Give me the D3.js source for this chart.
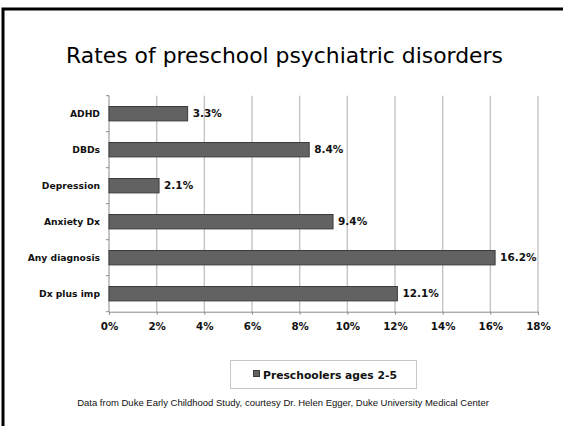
<!DOCTYPE html>
<html>
<head>
<meta charset="utf-8">
<script src="https://cdn.jsdelivr.net/npm/d3@7/dist/d3.min.js"></script>
<style>
  html, body { margin: 0; padding: 0; background: #fff; }
  svg { display: block; }
</style>
</head>
<body>
<svg id="chart" width="563" height="426"></svg>
<script>
// Prevalence of preschool psychiatric disorders (%)
const categories = ["ADHD", "DBDs", "Depression", "Anxiety Dx", "Any diagnosis", "Dx plus imp"];
const values = [3.3, 8.4, 2.1, 9.4, 16.2, 12.1];
const tickValues = [0, 2, 4, 6, 8, 10, 12, 14, 16, 18];
const tickLabels = ["0%", "2%", "4%", "6%", "8%", "10%", "12%", "14%", "16%", "18%"];
const seriesName = "Preschoolers ages 2-5";
const titleText = "Rates of preschool psychiatric disorders";
const footerText = "Data from Duke Early Childhood Study, courtesy Dr. Helen Egger, Duke University Medical Center";

const svg = d3.select("#chart");
const boldFont = "'DejaVu Sans', Verdana, sans-serif";

// slide frame (runs off the right and bottom edges)
svg.append("rect")
  .attr("x", 3).attr("y", 9).attr("width", 620).attr("height", 460)
  .attr("fill", "none").attr("stroke", "#000").attr("stroke-width", 3);

// title, fitted to its line width
const title = svg.append("text")
  .attr("x", 284.5).attr("y", 63)
  .attr("text-anchor", "middle")
  .attr("font-family", "Verdana, 'DejaVu Sans', sans-serif")
  .attr("font-size", 22).attr("fill", "#000")
  .text(titleText);
{
  const w = title.node().getComputedTextLength();
  title.attr("font-size", 22 * 437 / w);
}

const plot = { left: 109, right: 538, top: 95.7, bottom: 311.7 };

const x = d3.scaleLinear().domain([0, 18]).range([plot.left, plot.right]);
const y = d3.scaleBand().domain(categories)
  .range([plot.top, plot.bottom]).paddingInner(0.6).paddingOuter(0.3);

// vertical gridlines
svg.append("g").selectAll("line")
  .data(tickValues.filter(v => v > 0))
  .join("line")
  .attr("x1", d => x(d)).attr("x2", d => x(d))
  .attr("y1", plot.top).attr("y2", plot.bottom)
  .attr("stroke", "#c4c4c4").attr("stroke-width", 1.4);

// bottom axis
const xAxis = svg.append("g")
  .attr("transform", `translate(0,${plot.bottom})`)
  .call(d3.axisBottom(x).tickValues(tickValues)
    .tickFormat((d, i) => tickLabels[i]).tickSize(3).tickPadding(8));
xAxis.select(".domain").attr("stroke", "#8a8a8a");
xAxis.selectAll(".tick line").attr("stroke", "#8a8a8a");
xAxis.selectAll(".tick text")
  .attr("font-family", boldFont).attr("font-weight", "bold")
  .attr("font-size", 10.3).attr("fill", "#111");

// left axis: labels at band centres, ticks at band boundaries
const yAxis = svg.append("g")
  .attr("transform", `translate(${plot.left},0)`)
  .call(d3.axisLeft(y).tickSize(0).tickPadding(9));
yAxis.select(".domain").remove();
yAxis.selectAll(".tick text")
  .attr("font-family", boldFont).attr("font-weight", "bold")
  .attr("font-size", 9.2).attr("fill", "#111");

const bounds = d3.range(categories.length + 1).map(i => plot.top + i * y.step());
svg.append("g").selectAll("line")
  .data(bounds).join("line")
  .attr("x1", plot.left - 3).attr("x2", plot.left)
  .attr("y1", d => d).attr("y2", d => d)
  .attr("stroke", "#8a8a8a");
svg.append("line")
  .attr("x1", plot.left).attr("x2", plot.left)
  .attr("y1", plot.top).attr("y2", plot.bottom)
  .attr("stroke", "#8a8a8a");

// bars
svg.append("g").selectAll("rect")
  .data(categories.map((c, i) => ({ c, v: values[i] })))
  .join("rect")
  .attr("x", x(0))
  .attr("y", d => y(d.c))
  .attr("width", d => x(d.v) - x(0))
  .attr("height", y.bandwidth())
  .attr("fill", "#626262").attr("stroke", "#3c3c3c").attr("stroke-width", 1);

// value labels
svg.append("g").selectAll("text")
  .data(categories.map((c, i) => ({ c, v: values[i] })))
  .join("text")
  .attr("x", d => x(d.v) + 5)
  .attr("y", d => y(d.c) + y.bandwidth() / 2)
  .attr("dy", "0.35em")
  .attr("font-family", boldFont).attr("font-weight", "bold")
  .attr("font-size", 10.5).attr("fill", "#111")
  .text(d => d.v.toFixed(1) + "%");

// legend
const legend = svg.append("g");
legend.append("rect")
  .attr("x", 230.5).attr("y", 360.5).attr("width", 186).attr("height", 28)
  .attr("fill", "#fff").attr("stroke", "#c8c8c8").attr("stroke-width", 1);
legend.append("rect")
  .attr("x", 253.5).attr("y", 370.5).attr("width", 6).attr("height", 6)
  .attr("fill", "#626262").attr("stroke", "#3c3c3c").attr("stroke-width", 1);
const legText = legend.append("text")
  .attr("x", 263).attr("y", 378.5)
  .attr("font-family", boldFont).attr("font-weight", "bold")
  .attr("font-size", 11).attr("fill", "#111")
  .text(seriesName);
{
  const w = legText.node().getComputedTextLength();
  legText.attr("font-size", 11 * 134 / w);
}

// source note
const foot = svg.append("text")
  .attr("x", 283).attr("y", 406)
  .attr("text-anchor", "middle")
  .attr("font-family", "Arial, 'Liberation Sans', sans-serif")
  .attr("font-size", 8).attr("fill", "#111")
  .text(footerText);
{
  const w = foot.node().getComputedTextLength();
  foot.attr("font-size", 8 * 412 / w);
}
</script>
</body>
</html>
